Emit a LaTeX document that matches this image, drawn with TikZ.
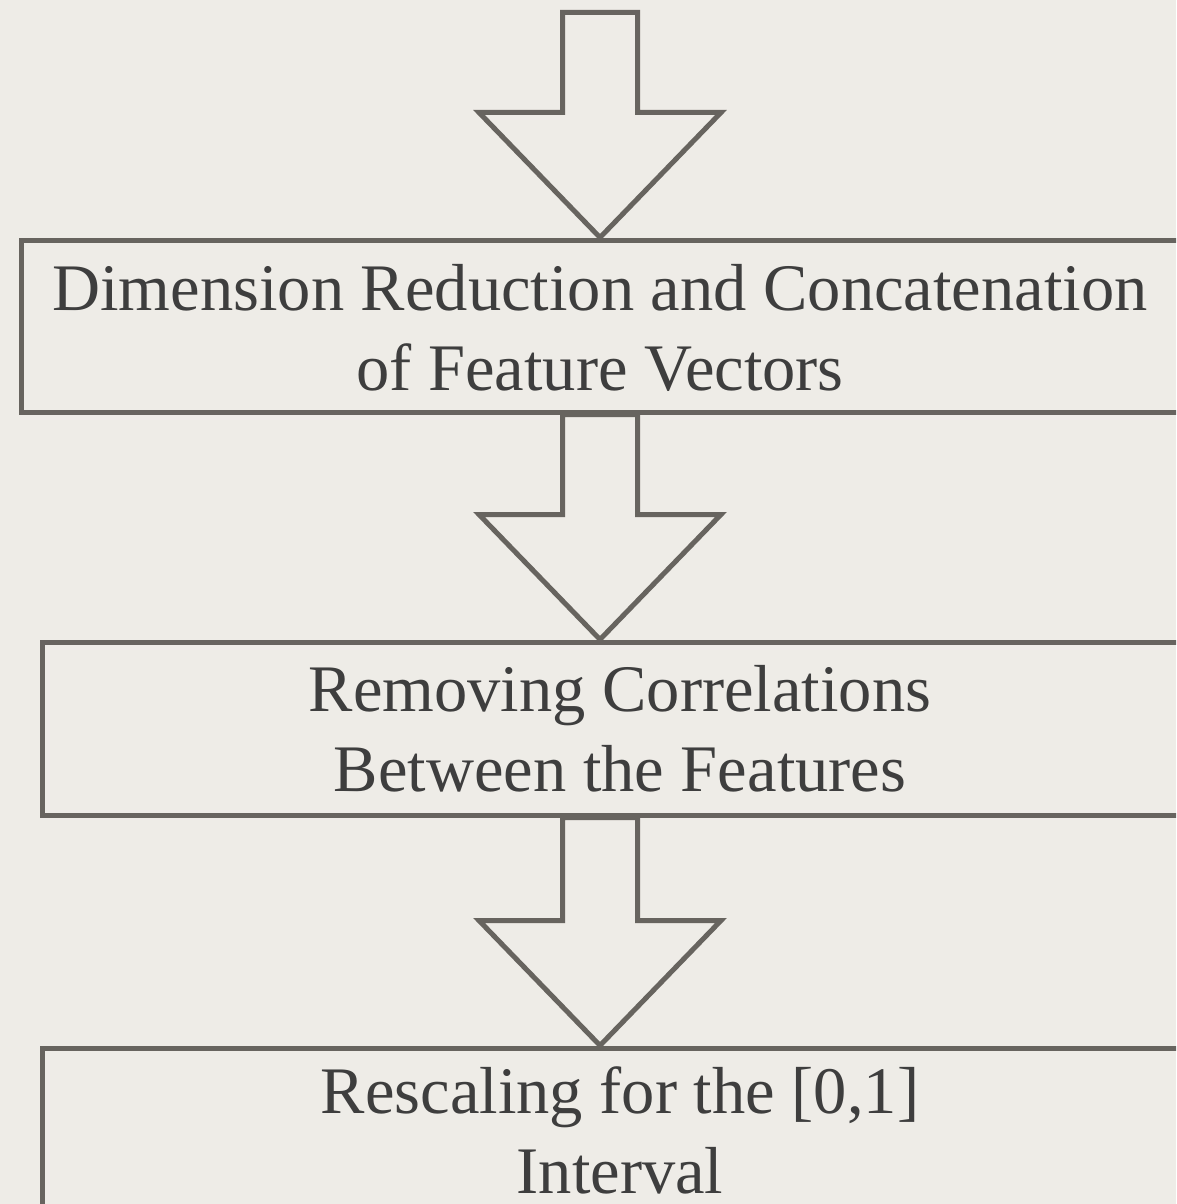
\documentclass[tikz,border=0pt]{standalone}
\usepackage{fontspec}
\setmainfont{Liberation Serif}
\usetikzlibrary{calc}
\definecolor{bg}{HTML}{EEECE7}
\definecolor{ln}{HTML}{67645F}
\definecolor{tx}{HTML}{3E3E3E}
\tikzset{
  stage/.style={draw=ln, line width=5pt, inner sep=0pt, minimum height=172pt},
  stagetext/.style={text=tx, font=\fontsize{66.5}{80}\selectfont, align=center, inner sep=0pt},
  bigarrow/.style={draw=ln, fill=bg, line width=5pt, line join=miter, miter limit=20},
}
\newcommand\flowarrow[2]{%
  \draw[bigarrow] ($(#1)+(-37.5,0)$) -- ($(#2)+(-37.5,-125)$) -- ($(#2)+(-121,-125)$)
    -- (#2) -- ($(#2)+(121,-125)$) -- ($(#2)+(37.5,-125)$) -- ($(#1)+(37.5,0)$) -- cycle;}
\begin{document}
\begin{tikzpicture}[x=1pt,y=-1pt]
  \useasboundingbox (0,0) rectangle (1176,1204);
  \clip (0,0) rectangle (1176,1204);
  \fill[bg] (0,0) rectangle (1176,1204);

  \node[stage, minimum width=1158pt] (box1) at (600,326) {};
  \node[stage, minimum width=1155pt, minimum height=173pt] (box2) at (620,728.5) {};
  \node[stage, minimum width=1155pt, minimum height=173pt] (box3) at (620,1134.5) {};

  \coordinate (in) at (600,12.5);
  \coordinate (tip1) at (box1.north);
  \coordinate (src2) at (box1.south);
  \coordinate (tip2) at (box1.south |- box2.north);
  \coordinate (src3) at (box1.south |- box2.south);
  \coordinate (tip3) at (box1.south |- box3.north);

  \flowarrow{in}{tip1}
  \flowarrow{src2}{tip2}
  \flowarrow{src3}{tip3}

  \node[stagetext] (text1) at ([yshift=-1.5pt]box1.center) {Dimension Reduction and Concatenation\\of Feature Vectors};
  \node[stagetext] (text2) at ([yshift=-0.5pt]box2.center) {Removing Correlations\\Between the Features};
  \node[stagetext] (text3) at ([yshift=4.5pt]box3.center) {Rescaling for the [0,1]\\Interval};
\end{tikzpicture}
\end{document}
